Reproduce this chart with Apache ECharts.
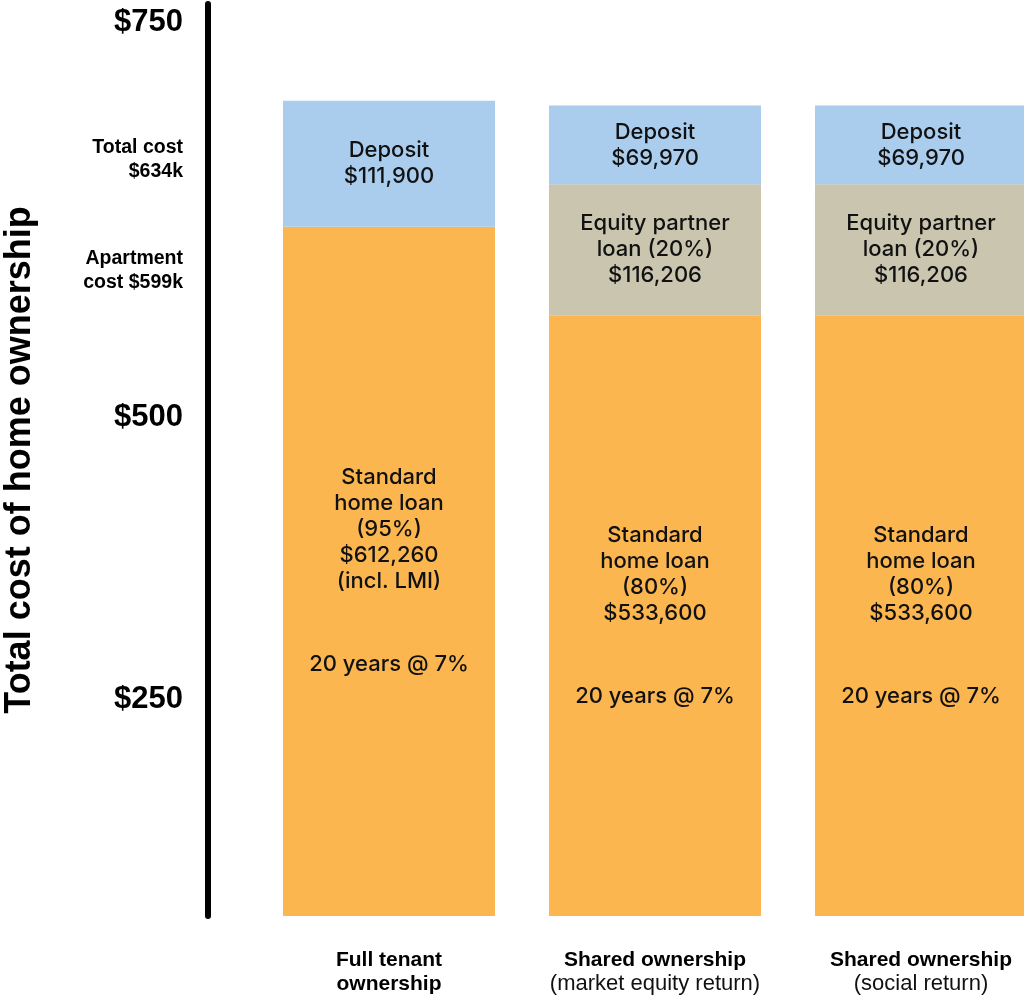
<!DOCTYPE html>
<html>
<head>
<meta charset="utf-8">
<script src="https://cdn.jsdelivr.net/npm/echarts@6/dist/echarts.min.js"></script>
<style>
  html, body { margin: 0; padding: 0; background: #ffffff; }
  #chart { width: 1024px; height: 999px; }
</style>
</head>
<body>
<div id="chart"></div>
<script>
// Ownership scenarios along the x axis
const scenarioTitles = ['Full tenant\nownership', 'Shared ownership', 'Shared ownership'];
const scenarioNotes = ['', '(market equity return)', '(social return)'];

// Cost components in dollars (null where a scenario has no such component)
const homeLoan = [612260, 533600, 533600];
const equityLoan = [null, 116206, 116206];
const deposit = [111900, 69970, 69970];

// Details printed inside the loan segments
const homeLoanShare = ['95%', '80%', '80%'];
const homeLoanExtra = ['(incl. LMI)', '', ''];
const loanTerm = '20 years @ 7%';
const equityShare = [null, '20%', '20%'];

// Y-axis annotations, top to bottom
const axisLabels = ['$750', 'Total cost\n$634k', 'Apartment\ncost $599k', '$500', '$250'];
const axisTitle = 'Total cost of home ownership';

// ---------------------------------------------------------------------------
const money = v => '$' + Number(v).toLocaleString('en-US');

// where each y-axis annotation sits on the value scale
const labelAnchors = [794000, 672000, 573000, 443000, 192000];

const SANS = '"Liberation Sans", Arial, Helvetica, sans-serif';
const BAR_FONT = 'Inter, "Noto Sans", sans-serif';

const segLabel = {
  show: true,
  position: 'inside',
  color: '#111111',
  fontFamily: BAR_FONT,
  fontWeight: 500,
  fontSize: 22,
  lineHeight: 26,
  align: 'center',
  rich: { gap: { fontSize: 10, lineHeight: 57 } }
};

const option = {
  animation: false,
  backgroundColor: '#ffffff',
  grid: { left: 256, top: 4, width: 798, height: 912, containLabel: false, outerBoundsMode: 'none' },
  xAxis: {
    type: 'category',
    data: scenarioTitles.map((t, i) => t + '|' + i),
    axisLine: { show: false },
    axisTick: { show: false },
    axisLabel: {
      margin: 32,
      interval: 0,
      formatter: v => {
        const i = Number(v.split('|')[1]);
        const title = scenarioTitles[i].split('\n').map(l => '{b|' + l + '}');
        if (scenarioNotes[i]) title.push('{n|' + scenarioNotes[i] + '}');
        return title.join('\n');
      },
      rich: {
        b: { fontFamily: SANS, fontWeight: 'bold', fontSize: 21, lineHeight: 24, color: '#000' },
        n: { fontFamily: SANS, fontWeight: 'normal', fontSize: 22, lineHeight: 24, color: '#111' }
      }
    }
  },
  yAxis: {
    type: 'value',
    min: 0,
    max: 810000,
    offset: 48,
    name: axisTitle,
    nameLocation: 'middle',
    nameGap: 170,
    nameTextStyle: { fontFamily: SANS, fontWeight: 'bold', fontSize: 36, color: '#000' },
    axisLine: { show: true, lineStyle: { color: '#000', width: 6 } },
    axisTick: { show: false },
    splitLine: { show: false },
    axisLabel: {
      margin: 25,
      customValues: labelAnchors,
      formatter: v => {
        const i = labelAnchors.indexOf(v);
        if (i < 0) return '';
        const txt = axisLabels[i];
        if (txt.indexOf('\n') < 0) return '{big|' + txt + '}';
        return txt.split('\n').map(l => '{small|' + l + '}').join('\n');
      },
      rich: {
        big: { fontFamily: SANS, fontWeight: 'bold', fontSize: 31, color: '#000', align: 'right' },
        small: { fontFamily: SANS, fontWeight: 'bold', fontSize: 19.5, lineHeight: 24, color: '#000', align: 'right' }
      }
    }
  },
  series: [
    {
      name: 'Standard home loan',
      type: 'bar',
      stack: 'total',
      barWidth: 212,
      data: homeLoan,
      itemStyle: { color: '#fcb64f' },
      label: Object.assign({}, segLabel, {
        formatter: p => {
          const i = p.dataIndex;
          const lines = ['Standard', 'home loan', '(' + homeLoanShare[i] + ')', money(p.value)];
          if (homeLoanExtra[i]) lines.push(homeLoanExtra[i]);
          lines.push('{gap| }');
          lines.push(loanTerm);
          return lines.join('\n');
        }
      })
    },
    {
      name: 'Equity partner loan',
      type: 'bar',
      stack: 'total',
      barWidth: 212,
      data: equityLoan.map(v => (v == null ? '-' : v)),
      itemStyle: { color: '#c9c5ae' },
      label: Object.assign({}, segLabel, {
        formatter: p => {
          const i = p.dataIndex;
          if (equityLoan[i] == null) return '';
          return 'Equity partner\nloan (' + equityShare[i] + ')\n' + money(equityLoan[i]);
        }
      })
    },
    {
      name: 'Deposit',
      type: 'bar',
      stack: 'total',
      barWidth: 212,
      data: deposit,
      itemStyle: { color: '#aacdee' },
      label: Object.assign({}, segLabel, {
        formatter: p => 'Deposit\n' + money(p.value)
      })
    }
  ]
};

const chart = echarts.init(document.getElementById('chart'), null, { renderer: 'canvas' });
chart.setOption(option);
</script>
</body>
</html>
